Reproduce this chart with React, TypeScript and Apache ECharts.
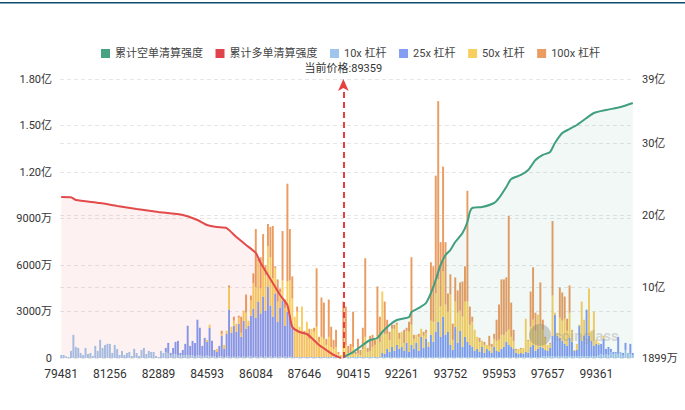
import React, { useEffect, useRef } from 'react';
import * as echarts from 'echarts';

const FONT = 'Roboto, "Noto Sans CJK SC", "Noto Sans", sans-serif';

const PRICE_BASE = 79481;
const PRICE_STEP = 71;
// step offsets of each price level shown on the category axis
const priceSteps = [
  0, 1, 2, 3, 5, 6, 7, 9, 10, 11, 13, 14, 15, 17, 18, 19, 21, 22, 23, 24,
  25, 26, 27, 28, 29, 30, 31, 33, 34, 35, 36, 37, 38, 40, 41, 42, 43, 44, 45, 46,
  48, 49, 50, 51, 52, 54, 55, 56, 57, 58, 60, 61, 62, 63, 64, 66, 67, 68, 69, 71,
  72, 73, 74, 75, 76, 77, 78, 79, 80, 81, 82, 83, 84, 86, 87, 88, 89, 90, 91, 92,
  93, 94, 95, 96, 97, 98, 99, 101, 102, 103, 104, 105, 106, 107, 109, 110, 111, 112, 113, 114,
  115, 116, 117, 118, 119, 120, 121, 122, 123, 124, 125, 126, 127, 128, 129, 130, 141, 145, 149, 152,
  154, 155, 156, 157, 159, 160, 161, 163, 164, 165, 167, 168, 169, 171, 172, 173, 175, 176, 177, 179,
  180, 181, 182, 183, 184, 185, 186, 187, 188, 189, 191, 192, 193, 194, 195, 196, 197, 198, 199, 200,
  201, 202, 204, 205, 207, 208, 210, 211, 213, 214, 216, 217, 219, 220, 222, 223, 225, 226, 228, 230,
  232, 233, 234, 235, 236, 238, 239, 240, 241, 242, 244, 245, 246, 247, 248, 250, 251, 252, 253, 255,
  256, 257, 258, 259, 260, 262, 263, 264, 265, 266, 268, 269, 270, 271, 273, 274, 275, 276, 278, 279,
  280, 281, 282, 283, 284, 285, 287, 288, 289, 290, 291, 293, 294, 295, 296, 297,
];
const categories = priceSteps.map((k) => String(PRICE_BASE + PRICE_STEP * k));

const CURRENT_PRICE_LABEL = '当前价格:89359';
const CURRENT_PRICE_INDEX = 116;

// liquidation amounts per price level, unit: 万
const lev10 = [
  195, 195, 100, 65, 455, 1495, 715, 650, 325, 195, 650, 260, 325, 130, 780, 455, 1170, 650, 845, 910,
  910, 325, 845, 585, 195, 455, 195, 325, 390, 130, 585, 325, 130, 520, 650, 260, 455, 390, 390, 130,
  65, 455, 325, 390, 325, 195, 260, 260, 195, 195, 195, 195, 195, 195, 195, 130, 195, 195, 130, 130,
  195, 130, 130, 130, 65, 130, 130, 65, 130, 130, 65, 130, 65, 130, 65, 130, 65, 130, 130, 65,
  130, 65, 130, 65, 130, 65, 130, 65, 130, 65, 130, 65, 130, 65, 130, 65, 65, 65, 65, 65,
  65, 65, 65, 65, 65, 65, 65, 65, 65, 65, 65, 65, 65, 65, 65, 65, 65, 65, 65, 65,
  65, 65, 65, 65, 65, 65, 65, 65, 65, 65, 65, 65, 65, 65, 65, 65, 65, 65, 65, 65,
  65, 65, 65, 65, 65, 65, 65, 65, 65, 65, 65, 65, 65, 65, 65, 65, 65, 65, 65, 65,
  65, 65, 65, 65, 65, 65, 65, 65, 65, 65, 65, 65, 65, 65, 65, 65, 65, 65, 65, 65,
  65, 65, 65, 65, 65, 65, 65, 65, 65, 65, 65, 65, 65, 65, 65, 65, 65, 65, 130, 130,
  130, 130, 130, 130, 130, 130, 130, 130, 130, 130, 130, 130, 130, 130, 130, 130, 130, 130, 130, 130,
  130, 195, 260, 195, 260, 195, 390, 260, 325, 260, 390, 195, 520, 325, 260, 195,
];
const lev25 = [
  0, 0, 0, 0, 0, 0, 0, 0, 0, 0, 0, 0, 0, 0, 0, 0, 0, 0, 0, 0,
  0, 0, 0, 0, 0, 0, 0, 0, 0, 0, 0, 0, 0, 0, 0, 0, 0, 0, 0, 0,
  0, 0, 0, 260, 650, 130, 390, 780, 910, 130, 325, 715, 1885, 585, 910, 845, 2275, 1755, 650, 1170,
  845, 1820, 975, 390, 325, 650, 1300, 520, 1430, 2990, 1560, 1950, 1625, 2080, 1300, 2275, 1820, 1950, 2600, 3120,
  2470, 3575, 2730, 3900, 2925, 4550, 3250, 2600, 4030, 2275, 3120, 3640, 1950, 2925, 2600, 1820, 0, 0, 0, 0,
  0, 0, 0, 0, 0, 0, 0, 0, 0, 0, 0, 0, 0, 0, 0, 0, 0, 0, 0, 0,
  0, 0, 0, 0, 0, 0, 0, 0, 0, 0, 0, 0, 260, 195, 520, 325, 650, 390, 780, 520,
  650, 390, 910, 325, 780, 520, 910, 390, 1300, 585, 1170, 650, 1430, 975, 1625, 2275, 1300, 2600, 1430, 1625,
  780, 455, 1950, 910, 1690, 650, 1300, 975, 780, 650, 390, 520, 325, 650, 260, 520, 390, 260, 650, 390,
  325, 520, 650, 975, 780, 650, 520, 260, 195, 260, 195, 325, 260, 650, 780, 390, 520, 650, 520, 390,
  325, 520, 1300, 2665, 1300, 1170, 975, 780, 650, 1170, 910, 325, 390, 1950, 975, 1300, 2990, 1300, 975, 650,
  780, 650, 650, 1040, 325, 520, 195, 130, 65, 1105, 0, 130, 455, 0, 650, 130,
];
const lev50 = [
  0, 0, 0, 0, 0, 0, 0, 0, 0, 0, 0, 0, 0, 0, 0, 0, 0, 0, 0, 0,
  0, 0, 0, 0, 0, 0, 0, 0, 0, 0, 0, 0, 0, 0, 0, 0, 0, 0, 0, 0,
  0, 0, 0, 0, 0, 0, 0, 0, 0, 0, 0, 0, 0, 0, 0, 0, 0, 0, 0, 0,
  130, 195, 0, 0, 195, 0, 130, 260, 195, 1430, 390, 325, 520, 390, 260, 650, 1040, 325, 975, 1625,
  1950, 2600, 1625, 1950, 2275, 2600, 3120, 2470, 1625, 1300, 975, 1300, 1170, 1950, 2275, 1950, 2600, 2925, 1950, 3250,
  1430, 2275, 1170, 1820, 1625, 1950, 975, 1300, 1170, 780, 1300, 650, 520, 650, 195, 130, 975, 780, 260, 325,
  650, 195, 260, 130, 520, 1300, 325, 390, 650, 780, 1300, 975, 3965, 1300, 975, 780, 1170, 1430, 1300, 650,
  975, 520, 780, 1300, 1300, 650, 520, 910, 520, 780, 390, 325, 910, 1300, 2470, 2730, 1950, 2925, 1950, 1300,
  3250, 650, 1625, 1950, 1300, 1950, 2275, 2600, 1300, 1625, 1365, 780, 650, 390, 520, 260, 325, 390, 520, 650,
  780, 910, 780, 650, 975, 650, 520, 195, 325, 260, 390, 2145, 780, 1300, 1625, 1300, 2210, 1430, 1170, 780,
  390, 260, 2600, 130, 195, 1300, 1300, 1625, 975, 1625, 780, 65, 390, 65, 2535, 1040, 0, 3055, 650, 2210,
  260, 130, 0, 195, 0, 0, 0, 0, 0, 0, 0, 0, 0, 0, 0, 0,
];
const lev100 = [
  0, 0, 0, 0, 0, 0, 0, 0, 0, 0, 0, 0, 0, 0, 0, 0, 0, 0, 0, 0,
  0, 0, 0, 0, 0, 0, 0, 0, 0, 0, 0, 0, 0, 0, 0, 0, 0, 0, 0, 0,
  0, 0, 0, 0, 0, 0, 0, 0, 0, 0, 0, 0, 0, 0, 0, 0, 0, 0, 0, 0,
  0, 0, 0, 0, 0, 0, 195, 0, 0, 130, 0, 260, 0, 130, 1040, 0, 1170, 0, 325, 650,
  3770, 130, 2015, 2080, 650, 1430, 1950, 3380, 130, 1430, 260, 3185, 520, 6305, 3315, 1430, 0, 325, 0, 0,
  260, 0, 650, 0, 260, 3770, 325, 2535, 2340, 390, 2405, 1300, 585, 1105, 130, 0, 2600, 2470, 455, 520,
  2275, 130, 910, 325, 1365, 5070, 260, 975, 780, 325, 3250, 1625, 0, 2080, 910, 520, 260, 260, 130, 390,
  0, 845, 195, 650, 4355, 260, 0, 195, 0, 260, 195, 0, 3770, 3575, 7605, 11505, 4160, 6760, 4030, 1170,
  1300, 1040, 1560, 1430, 1820, 2275, 2275, 7150, 1170, 325, 0, 0, 260, 0, 195, 0, 650, 195, 325, 1365,
  2275, 3575, 3575, 3510, 7345, 2210, 715, 65, 0, 65, 0, 0, 65, 2275, 3380, 1170, 0, 2730, 650, 65,
  0, 65, 4810, 0, 0, 1950, 1820, 1430, 780, 1755, 0, 0, 0, 0, 0, 0, 0, 0, 0, 0,
  0, 0, 0, 0, 0, 0, 0, 0, 0, 0, 0, 0, 0, 0, 0, 0,
];

// cumulative intensity, [category index, value in 万]
const longCum = [
  [0, 225850], [4, 225500], [6, 221700], [16, 217500], [23, 213300], [31, 209200], [40, 205000],
  [50, 200800], [56, 193900], [60, 186900], [64, 184100], [68, 182700], [72, 170200], [76, 159100],
  [80, 148000], [82, 134000], [85, 117400], [87, 106200], [90, 89500], [93, 75600], [95, 45000],
  [98, 38100], [101, 35300], [103, 29700], [106, 20000], [109, 13000], [112, 6100], [115, 1899],
];
const shortCum = [
  [116, 3300], [120, 10200], [124, 20000], [127, 26900], [130, 29700], [132, 38100], [135, 47800],
  [138, 54800], [143, 58900], [144, 65900], [147, 71500], [150, 78400], [153, 100700], [156, 131300],
  [158, 145200], [160, 152100], [162, 163300], [165, 175800], [167, 191100], [168, 205000], [169, 210600],
  [173, 211900], [178, 217500], [180, 224500], [183, 239800], [185, 250900], [189, 256500], [192, 263400],
  [195, 277300], [198, 284300], [201, 288500], [203, 301000], [206, 314900], [209, 320400], [212, 326000],
  [216, 335700], [219, 342700], [224, 346900], [230, 351000], [235, 356600],
];

const LEFT_MAX = 18000;
const LEFT_INTERVAL = 3000;
const RIGHT_MIN = 1899;
const RIGHT_MAX = 390000;
const rightTicks = [1899, 100000, 200000, 300000, 390000];

const NAMES = ['累计空单清算强度', '累计多单清算强度', '10x 杠杆', '25x 杠杆', '50x 杠杆', '100x 杠杆'];

export default function App() {
  const ref = useRef<HTMLDivElement>(null);
  useEffect(() => {
    const chart = echarts.init(ref.current!, null, { renderer: 'svg' });
    const splitLine = { show: true, lineStyle: { color: '#e6e6e6', type: [4, 3], width: 1 } };
    const barBase = (name: string, data: number[], color: string) => ({
      name,
      type: 'bar',
      stack: 'lev',
      data,
      yAxisIndex: 0,
      barCategoryGap: '20%',
      itemStyle: { color, opacity: 0.85 },
      emphasis: { disabled: true },
    });
    const option: any = {
      animation: false,
      backgroundColor: '#ffffff',
      textStyle: { fontFamily: FONT },
      graphic: [
        { type: 'rect', shape: { x: 0, y: 2, width: 685, height: 1.5 }, style: { fill: '#0b4d6a' }, silent: true },
        { type: 'circle', shape: { cx: 540, cy: 335, r: 11 }, style: { fill: 'rgba(120,120,120,0.35)' }, z: 100, silent: true },
        {
          type: 'text', x: 554, y: 336, z: 100, silent: true,
          style: { text: 'coinglass', font: 'bold 15px ' + FONT, fill: 'rgba(150,150,150,0.35)', verticalAlign: 'middle' },
        },
      ],
      legend: {
        top: 43,
        left: 96,
        icon: 'rect',
        itemWidth: 9,
        itemHeight: 9,
        itemGap: 12.5,
        data: NAMES,
        textStyle: { fontSize: 11, color: '#444', fontFamily: FONT },
      },
      grid: { left: 60, right: 51, top: 79, bottom: 52 },
      xAxis: {
        type: 'category',
        data: categories,
        boundaryGap: true,
        axisLine: { show: false },
        axisTick: { show: false },
        axisLabel: { interval: 19, fontSize: 12, color: '#333', margin: 10, fontFamily: FONT },
      },
      yAxis: [
        {
          type: 'value',
          min: 0,
          max: LEFT_MAX,
          interval: LEFT_INTERVAL,
          axisLine: { show: false },
          axisTick: { show: false },
          splitLine,
          axisLabel: {
            fontSize: 11, color: '#333', fontFamily: FONT,
            formatter: (v: number) => (v === 0 ? '0' : v >= 10000 ? (v / 10000).toFixed(2) + '亿' : v + '万'),
          },
        },
        {
          type: 'value',
          min: RIGHT_MIN,
          max: RIGHT_MAX,
          position: 'right',
          axisLine: { show: false },
          axisTick: { show: false, customValues: rightTicks },
          splitLine,
          axisLabel: {
            customValues: rightTicks,
            fontSize: 11, color: '#333', fontFamily: FONT,
            formatter: (v: number) => (v >= 10000 ? Math.round(v / 10000) + '亿' : Math.round(v) + '万'),
          },
        },
      ],
      series: [
        barBase(NAMES[2], lev10, '#8fbbe9'),
        barBase(NAMES[3], lev25, '#6b8cf2'),
        barBase(NAMES[4], lev50, '#f6c644'),
        barBase(NAMES[5], lev100, '#e68b45'),
        {
          name: NAMES[0],
          type: 'line',
          yAxisIndex: 1,
          data: shortCum,
          symbol: 'none',
          smooth: 0.2,
          lineStyle: { color: '#3f9f80', width: 2 },
          itemStyle: { color: '#46a283' },
          areaStyle: { color: 'rgba(70,162,131,0.10)' },
          emphasis: { disabled: true },
          z: 3,
        },
        {
          name: NAMES[1],
          type: 'line',
          yAxisIndex: 1,
          data: longCum,
          symbol: 'none',
          smooth: 0.2,
          lineStyle: { color: '#e34a4a', width: 2 },
          itemStyle: { color: '#e0434a' },
          areaStyle: { color: 'rgba(227,74,74,0.11)' },
          emphasis: { disabled: true },
          z: 3,
          markLine: {
            silent: true,
            symbol: ['none', 'arrow'],
            symbolSize: [8, 12],
            lineStyle: { color: '#e8403f', type: [6, 4], width: 2 },
            label: { show: true, position: 'end', formatter: CURRENT_PRICE_LABEL, color: '#333', fontSize: 11, fontFamily: FONT },
            emphasis: { disabled: true },
            data: [{ xAxis: CURRENT_PRICE_INDEX }],
          },
        },
      ],
    };
    chart.setOption(option);
    return () => chart.dispose();
  }, []);
  return <div ref={ref} style={{ position: 'absolute', left: 0, top: 0, width: 685, height: 410 }} />;
}
